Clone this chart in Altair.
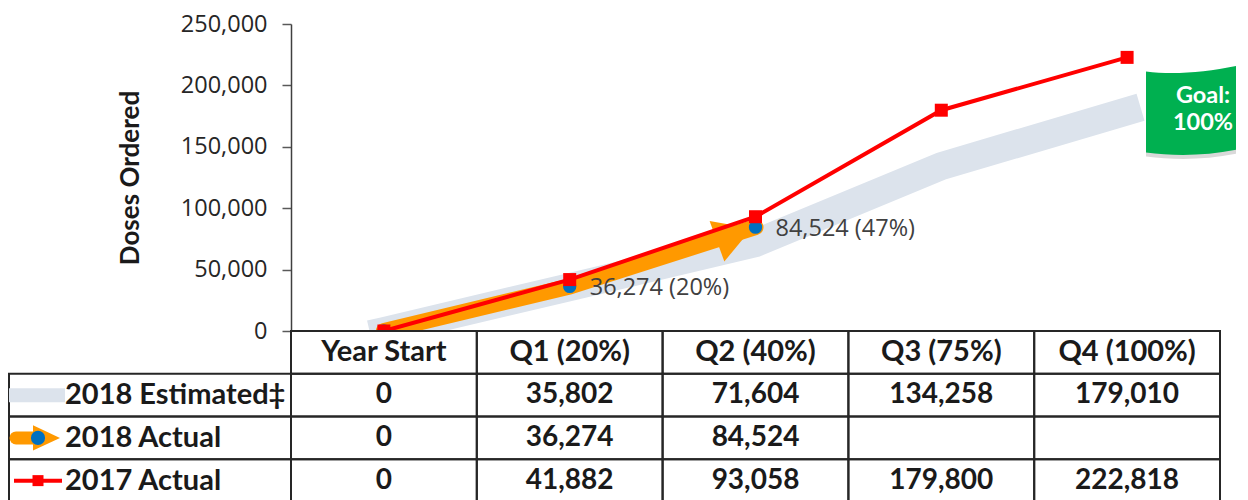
import altair as alt
import pandas as pd

# ---------------- data ----------------
categories = ["Year Start", "Q1 (20%)", "Q2 (40%)", "Q3 (75%)", "Q4 (100%)"]
est_2018 = [0, 35802, 71604, 134258, 179010]
act_2018 = [0, 36274, 84524, None, None]
act_2017 = [0, 41882, 93058, 179800, 222818]
series_names = ["2018 Estimated‡", "2018 Actual", "2017 Actual"]
y_ticks = [0, 50000, 100000, 150000, 200000, 250000]
goal_text = ["Goal:", "100%"]
y_title = "Doses Ordered"

# ---------------- styles ----------------
GRAY = "#DCE3EC"
ORANGE = "#FF9900"
BLUE = "#0070C0"
RED = "#FF0000"
GREEN = "#00B050"
INK = "#1a1a1a"
W = 929
H1 = 307
H2 = 171
goal_total = est_2018[-1]

rows = []
for i, c in enumerate(categories):
    a = act_2018[i]
    rows.append(dict(
        cat=c, idx=i, est=est_2018[i], act=a, p17=act_2017[i],
        lab=(f"{a:,} ({round(a / goal_total * 100)}%)" if a else ""),
    ))
df = pd.DataFrame(rows)

xs = alt.X("cat:N", sort=categories,
           scale=alt.Scale(type="point", domain=categories, padding=0.5),
           axis=None)


def yenc(field):
    return alt.Y(f"{field}:Q",
                 scale=alt.Scale(domain=[0, 250000], nice=False),
                 axis=alt.Axis(title=y_title, values=y_ticks, format=",.0f",
                               grid=False, labelFont="Open Sans", labelFontSize=23.5,
                               labelColor="#262626", labelPadding=15,
                               tickSize=9, tickColor="#595959", tickWidth=1.5,
                               domainColor="#404040", domainWidth=1.5,
                               titleFont="Lato", titleFontWeight="bold",
                               titleFontSize=26, titleColor=INK, titlePadding=37))


base = alt.Chart(df)
est_line = base.mark_line(color=GRAY, strokeWidth=28, strokeCap="square",
                          strokeJoin="round", clip=True).encode(
    x=xs, y=yenc("est"), order="idx:Q")
act_line = base.mark_line(color=ORANGE, strokeWidth=16, strokeCap="round",
                          clip=True).encode(x=xs, y=yenc("act"), order="idx:Q")
ARROW = "M-0.2,0 L-2,-1.05 L-2,1.05 Z"
arrow = base.transform_filter(alt.datum.idx == 2).mark_point(
    shape=ARROW, size=1681, filled=True, color=ORANGE, opacity=1,
    strokeWidth=0, angle=340).encode(x=xs, y=yenc("act"))
blue = base.transform_filter("isValid(datum.act)").mark_point(
    shape="circle", size=177, filled=True, color=BLUE, opacity=1,
    strokeWidth=0, clip=True).encode(x=xs, y=yenc("act"))
red_line = base.mark_line(color=RED, strokeWidth=4, clip=True).encode(
    x=xs, y=yenc("p17"), order="idx:Q")
red_sq = base.mark_point(shape="square", size=169, filled=True, color=RED,
                         opacity=1, strokeWidth=0, clip=True).encode(
    x=xs, y=yenc("p17"))
labels = base.mark_text(align="left", baseline="middle", dx=20, dy=2,
                        font="Open Sans", fontSize=23.5, color="#404040").encode(
    x=xs, y=yenc("act"), text="lab:N")

FLAG = ("M-1,-0.9 C-0.4,-0.82 0.3,-0.88 1,-1.02 L1,0.84 "
        "C0.3,0.98 -0.4,0.98 -1,0.9 Z")
goal_df = pd.DataFrame({"goal": [" ".join(goal_text)]})
flag_shadow = alt.Chart(goal_df).mark_point(
    shape=FLAG, size=8100, filled=True, color="#000000", opacity=0.15,
    strokeWidth=0).encode(x=alt.value(900), y=alt.value(92))
flag = alt.Chart(goal_df).mark_point(shape=FLAG, size=8100, filled=True,
                                     color=GREEN, opacity=1, strokeWidth=0).encode(
    x=alt.value(900), y=alt.value(88))
flag_text = alt.Chart(goal_df).mark_text(
    font="Lato", fontWeight="bold", fontSize=23.5, color="white",
    align="center", baseline="middle", lineHeight=27).encode(
    x=alt.value(912), y=alt.value(72), text=alt.value(goal_text))

top = alt.layer(est_line, act_line, arrow, blue, red_line, red_sq, labels,
                flag_shadow, flag, flag_text).properties(width=W, height=H1)

# ---------------- table ----------------
row_order = ["hdr"] + series_names
trows = []
for i, c in enumerate(categories):
    trows.append(dict(row="hdr", cat=c, txt=c, hdr=True))
    for name, vals in zip(series_names, [est_2018, act_2018, act_2017]):
        v = vals[i]
        trows.append(dict(row=name, cat=c, txt=("" if v is None else f"{v:,}"),
                          hdr=False))
tdf = pd.DataFrame(trows)
ldf = pd.DataFrame({"row": series_names})

xt = alt.X("cat:N", sort=categories,
           scale=alt.Scale(domain=categories, paddingInner=0, paddingOuter=0),
           axis=None)
yt = alt.Y("row:N", sort=row_order,
           scale=alt.Scale(domain=row_order, paddingInner=0, paddingOuter=0),
           axis=None)

cells = alt.Chart(tdf).mark_rect(fillOpacity=0, stroke="#262626",
                                 strokeWidth=2).encode(x=xt, y=yt)
head_text = alt.Chart(tdf).transform_filter("datum.hdr").mark_text(
    font="Lato", fontWeight="bold", fontSize=29, color=INK).encode(
    x=xt, y=yt, text="txt:N")
cell_text = alt.Chart(tdf).transform_filter("!datum.hdr").mark_text(
    font="Lato", fontWeight="bold", fontSize=28, color=INK).encode(
    x=xt, y=yt, text="txt:N")
left_cells = alt.Chart(ldf).mark_rect(fillOpacity=0, stroke="#262626",
                                      strokeWidth=2).encode(
    x=alt.value(-282), x2=alt.value(0), y=yt)
row_labels = alt.Chart(ldf).mark_text(font="Lato", fontWeight="bold",
                                      fontSize=29, color=INK, align="left",
                                      baseline="middle").encode(
    x=alt.value(-226), y=yt, text="row:N")

l_est = alt.Chart(ldf).transform_filter(alt.datum.row == series_names[0]).mark_rule(
    color=GRAY, strokeWidth=14, strokeCap="butt").encode(
    x=alt.value(-282), x2=alt.value(-226), y=yt)
l_act = alt.Chart(ldf).transform_filter(alt.datum.row == series_names[1]).mark_rule(
    color=ORANGE, strokeWidth=13, strokeCap="round").encode(
    x=alt.value(-275), x2=alt.value(-258), y=yt)
LEG_ARROW = "M1,0 L-1,-0.93 L-1,0.93 Z"
l_arrow = alt.Chart(ldf).transform_filter(alt.datum.row == series_names[1]).mark_point(
    shape=LEG_ARROW, size=729, filled=True, color=ORANGE, opacity=1,
    strokeWidth=0).encode(x=alt.value(-244.5), y=yt)
l_dot = alt.Chart(ldf).transform_filter(alt.datum.row == series_names[1]).mark_point(
    shape="circle", size=200, filled=True, color=BLUE, opacity=1,
    strokeWidth=0).encode(x=alt.value(-253), y=yt)
l_red = alt.Chart(ldf).transform_filter(alt.datum.row == series_names[2]).mark_rule(
    color=RED, strokeWidth=4).encode(x=alt.value(-277), x2=alt.value(-229), y=yt)
l_sq = alt.Chart(ldf).transform_filter(alt.datum.row == series_names[2]).mark_point(
    shape="square", size=121, filled=True, color=RED, opacity=1,
    strokeWidth=0).encode(x=alt.value(-253), y=yt)

table = alt.layer(cells, left_cells, l_est, l_act, l_arrow, l_dot, l_red, l_sq,
                  head_text, cell_text, row_labels).properties(width=W, height=H2)

chart = alt.vconcat(top, table, spacing=0, bounds="flush").properties(
    padding={"left": -6, "top": 4, "right": 0, "bottom": 0}
).configure_view(strokeWidth=0)

chart.save("out.html", embed_options={"renderer": "svg", "actions": False})
